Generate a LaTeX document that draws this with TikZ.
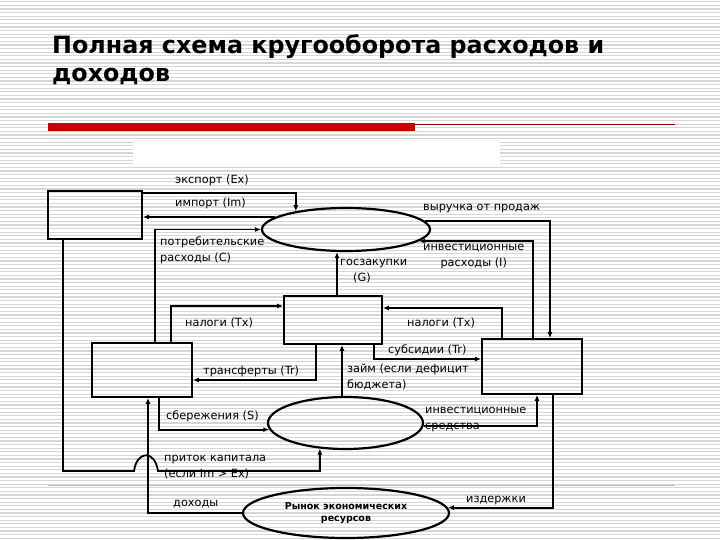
\documentclass[tikz,border=0pt]{standalone}
\usepackage{fontspec}
\setmainfont{DejaVu Sans}
\usepackage{xcolor}
\usepackage{tikz}
\usetikzlibrary{arrows.meta, shapes.geometric}

\definecolor{slidered}{RGB}{204,0,0}
\definecolor{stripegray}{RGB}{214,214,214}

\begin{document}
\begin{tikzpicture}[x=1pt, y=-1pt,
    box/.style={draw, line width=1.8pt, inner sep=0pt},
    market/.style={draw, ellipse, line width=2.2pt, inner sep=0pt},
    flow/.style={line width=1.8pt, -{Latex[length=6pt,width=5pt]}},
    lbl/.style={inner sep=0pt, anchor=base west, font=\fontsize{11.3}{15.5}\selectfont}]
        \useasboundingbox (0,0) rectangle (720,540);
        \fill[white] (0,0) rectangle (720,540);
	  \foreach \y in {1.8,5.4,...,540}
	  {
	  \draw[stripegray, line width=1.1pt] (0,\y) -- (720,\y);
	  }
        % title and bars (base of a two-line node = its last line)
        \node[inner sep=0pt, anchor=base west, align=left, font=\fontsize{23.8}{28}\selectfont\bfseries] (title) at (52,82)
            {Полная схема кругооборота расходов и\\доходов};
        \fill[slidered] (48,123) rectangle (415,131);
        \draw[slidered!70!black, line width=1pt] (415,124.5) -- (675,124.5);
        \fill[white] (133,142) rectangle (500,167);
        \draw[slidered!60!black, opacity=0.3, line width=0.8pt] (48,485) -- (675,485);

        % sectors and markets
        \node[box, minimum width=94pt, minimum height=48pt] (row) at (95,215) {};
        \node[box, minimum width=98pt, minimum height=48pt] (gov) at (333,320) {};
        \node[box, minimum width=100pt, minimum height=54pt] (hh) at (142,370) {};
        \node[box, minimum width=100pt, minimum height=55pt] (firm) at (532,366.5) {};
        \node[market, minimum width=168pt, minimum height=43pt] (gm) at (346,229.5) {};
        \node[market, minimum width=155pt, minimum height=52pt] (fm) at (345.5,423) {};
        \node[market, minimum width=206pt, minimum height=50pt, align=center,
              font=\fontsize{9.5}{12.5}\selectfont\bfseries] (rm) at (346,513)
            {Рынок экономических\\ресурсов};

        % flows
        \draw[flow] (row.east |- 0,193) -| (gm.160);
        \draw[flow, line width=2.6pt] (gm.170) -- (gm.170 -| row.east);
        \draw[flow] (hh.north -| 155,0) |- (gm.west);
        \draw[flow] (gov.north -| 337,0) -- (gm.south -| 337,0);
        \draw[flow] (gm.6) -| (firm.north -| 550,0);
        \draw[flow] (firm.north -| 533,0) |- (gm.-9);
        \draw[flow] (hh.north -| 171,0) |- (gov.west |- 0,306);
        \draw[flow] (firm.north -| 502,0) |- (gov.east |- 0,308);
        \draw[flow] (gov.south -| 316,0) |- (hh.east |- 0,380);
        \draw[flow] (gov.south -| 374,0) |- (firm.west |- 0,359);
        \draw[flow] (fm.north -| 342,0) -- (gov.south -| 342,0);
        \draw[flow] (hh.south -| 159,0) |- (fm.185);
        \draw[flow] (fm.-2) -| (firm.south -| 537,0);
        \draw[flow] (row.south -| 63,0) |- (134,471) .. controls (137,450) and (155,450) .. (158,471) -| (fm.225);
        \draw[flow] (rm.west) -| (hh.south -| 148,0);
        \draw[flow] (firm.south -| 553,0) |- (rm.3);

        % labels
        \node[lbl] (ex) at (175,184) {экспорт (Ex)};
        \node[lbl] (im) at (175,207) {импорт (Im)};
        \node[lbl, align=left] (cons) at (160,261) {потребительские\\расходы (С)};
        \node[lbl, align=left] (purch) at (340,281) {госзакупки\\\hspace{13pt}(G)};
        \node[lbl] (rev) at (423,211) {выручка от продаж};
        \node[lbl, align=center] (inv) at (423,266) {инвестиционные\\расходы (I)};
        \node[lbl] (taxh) at (185,326) {налоги (Tx)};
        \node[lbl] (taxf) at (407,326) {налоги (Tx)};
        \node[lbl] (trans) at (203,374) {трансферты (Tr)};
        \node[lbl] (subs) at (388,353) {субсидии (Tr)};
        \node[lbl, align=left] (loan) at (347,388) {займ (если дефицит\\бюджета)};
        \node[lbl] (sav) at (166,419) {сбережения (S)};
        \node[lbl, align=left] (funds) at (425,429) {инвестиционные\\средства};
        \node[lbl, align=left] (cap) at (164,477) {приток капитала\\(если Im > Ex)};
        \node[lbl] (inc) at (173,506) {доходы};
        \node[lbl] (cost) at (466,502) {издержки};
    \end{tikzpicture}
\end{document}
